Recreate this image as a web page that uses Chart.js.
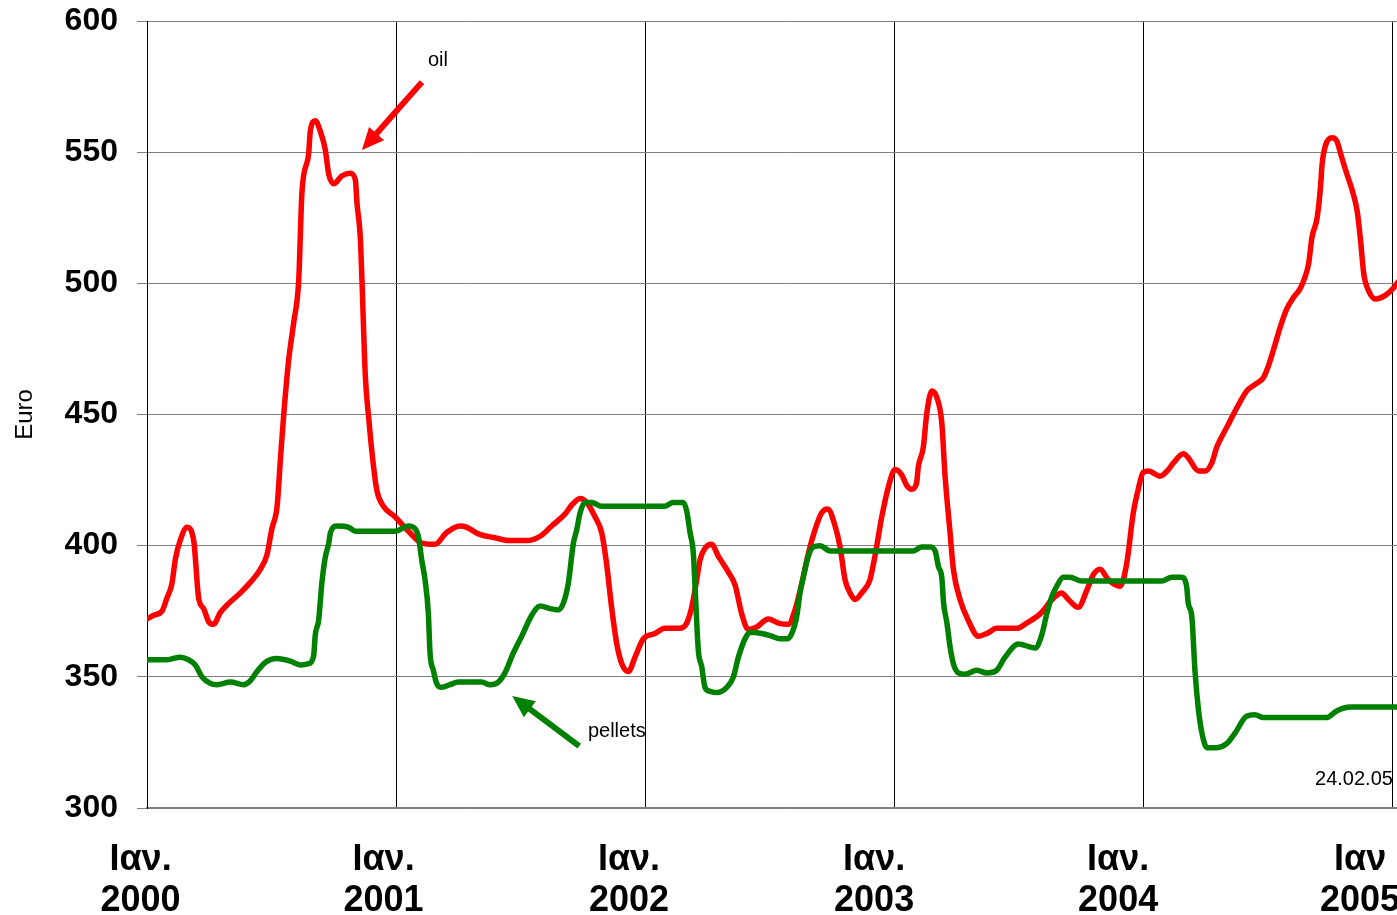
<!DOCTYPE html>
<html>
<head>
<meta charset="utf-8">
<script src="https://cdn.jsdelivr.net/npm/chart.js@4"></script>
<style>
  html, body { margin: 0; padding: 0; background: #fff; overflow: hidden; }
  canvas { display: block; }
</style>
</head>
<body>
<canvas id="priceChart" width="1440" height="915"></canvas>
<script>
// Data (x = months since Jan 2000, y = Euro)
const oilMonths = [0, 0.32, 0.72, 0.96, 1.2, 1.37, 1.6, 1.93, 2.25, 2.49, 2.73, 2.97, 3.21, 3.53, 3.94, 4.5, 4.98, 5.46, 5.78, 6.02,
  6.27, 6.43, 6.59, 6.83, 7.07, 7.31, 7.47, 7.79, 7.87, 8.11, 8.35, 8.59, 8.76, 9.0, 9.4, 9.8, 10.04, 10.12, 10.28, 10.36,
  10.52, 10.68, 10.92, 11.08, 11.4, 11.95, 12.6, 13.24, 13.88, 14.44, 15.08, 15.41, 15.97, 16.77, 17.41, 18.38, 19.02, 19.5, 20.14, 20.47,
  20.87, 21.19, 21.59, 21.91, 22.15, 22.39, 22.64, 22.88, 23.2, 23.52, 23.92, 24.48, 24.96, 25.61, 25.93, 26.25, 26.49, 26.65, 26.89, 27.21,
  27.53, 28.01, 28.34, 28.66, 28.98, 29.38, 29.94, 30.42, 30.9, 31.23, 31.55, 31.87, 32.19, 32.51, 32.8, 33.16, 33.4, 33.64, 33.88, 34.12,
  34.44, 34.84, 35.08, 35.41, 35.73, 36.05, 36.37, 36.61, 36.85, 37.09, 37.17, 37.41, 37.58, 37.82, 38.06, 38.3, 38.46, 38.7, 38.86, 39.18,
  39.58, 40.06, 40.47, 40.95, 41.91, 42.39, 43.04, 43.68, 44.08, 44.4, 44.88, 45.29, 45.61, 45.93, 46.33, 46.89, 47.21, 47.53, 47.77, 48.01,
  48.26, 48.82, 49.22, 49.46, 49.95, 50.18, 50.67, 50.99, 51.31, 51.55, 52.03, 52.52, 53.0, 53.4, 53.8, 54.04, 54.28, 54.6, 54.91, 55.24,
  55.57, 55.81, 55.98, 56.14, 56.39, 56.55, 56.63, 56.79, 57.11, 57.35, 57.52, 57.83, 58.08, 58.32, 58.48, 58.64, 58.88, 59.2, 59.69, 60.1,
  60.29, 60.6];
const oilPrice = [372, 373.5, 375, 380, 385.5, 395, 402, 407, 402, 380, 376, 371, 370, 374.5, 378, 382, 386, 391, 396.5, 406.5,
  415, 433, 450, 471, 485, 501, 535, 549.5, 558, 562, 558, 551, 541.5, 538, 541, 542, 539.5, 530.5, 517.5, 501,
  465, 449, 430, 421, 415, 411, 405.5, 401, 400.5, 405, 407.5, 407, 404.5, 403, 402, 402, 404, 407.5, 412, 415.5,
  418, 416.5, 411, 405, 393, 376.5, 362.5, 355, 352, 357.5, 364.5, 366.5, 368.5, 368.5, 369.5, 376.5, 387, 394.5, 399, 400.5,
  396, 390, 385, 374, 368, 369, 372, 370.5, 370, 375.5, 385.5, 397, 406, 412.5, 414, 407.5, 399.5, 387, 382, 379.5,
  382, 387, 396, 411, 422.5, 429, 427, 423, 421.5, 424, 430, 437.5, 450.5, 459, 456.5, 447, 426.5, 405, 391, 379.5,
  371.5, 365.5, 366.5, 368.5, 368.5, 370.5, 374, 380, 382, 379.5, 376.5, 383, 389, 391, 387, 384.5, 393, 412.5, 421.5, 428,
  428.5, 426.5, 429, 431.5, 435, 433.5, 428.5, 428.5, 431.5, 437.5, 445, 452.5, 459, 461.5, 464, 468.5, 474.5, 483, 490, 494.5,
  498, 502.5, 507.5, 517.5, 525, 536.5, 545.5, 552.5, 555.5, 554, 549.5, 541.5, 535.5, 527.5, 516.5, 503.5, 497, 494, 495.5, 498.5,
  500.5, 503];

const pelletMonths = [0, 0.96, 1.6, 2.0, 2.33, 2.65, 3.05, 3.37, 4.02, 4.66, 4.98, 5.3, 5.7, 6.27, 6.91, 7.39, 7.79, 8.03, 8.11, 8.27,
  8.43, 8.59, 8.76, 8.84, 9.16, 9.72, 10.04, 11.95, 12.6, 12.84, 13.08, 13.24, 13.4, 13.56, 13.64, 13.8, 13.96, 14.2, 14.6, 15.0,
  16.13, 16.53, 16.93, 17.25, 17.65, 18.06, 18.54, 18.94, 19.42, 19.82, 20.06, 20.3, 20.55, 20.71, 20.87, 21.11, 21.43, 21.91, 24.96, 25.36,
  25.84, 26.0, 26.17, 26.33, 26.41, 26.57, 26.73, 26.89, 27.13, 27.46, 27.94, 28.26, 28.5, 28.82, 29.06, 29.62, 30.1, 30.5, 30.83, 31.07,
  31.31, 31.47, 31.63, 31.87, 32.11, 32.43, 32.92, 36.93, 37.33, 37.73, 37.98, 38.14, 38.3, 38.39, 38.55, 38.7, 38.86, 39.1, 39.42, 39.99,
  40.47, 40.95, 41.35, 41.99, 42.8, 43.12, 43.36, 43.6, 43.84, 44.16, 44.48, 45.05, 48.9, 49.38, 49.86, 50.1, 50.18, 50.35, 50.51, 50.67,
  50.84, 51.08, 51.55, 52.03, 52.43, 52.99, 53.4, 53.8, 56.85, 57.33, 57.98, 60.6];
const pelletPrice = [356.5, 356.5, 357.5, 356.5, 354.5, 350, 347.5, 347, 348, 347, 348.5, 352, 355.5, 357, 356, 354.5, 355, 358, 366, 371.5,
  386, 395.5, 401, 405, 407.5, 407, 405.5, 405.5, 407.5, 407, 403.5, 394.5, 387, 374, 359, 352.5, 347.5, 346, 347, 348,
  348, 347, 348, 351.5, 359, 365.5, 373.5, 377, 376, 375.5, 378, 385.5, 401, 406, 412.5, 416.5, 416.5, 415, 415, 416.5,
  416.5, 413.5, 405, 397, 384.5, 360, 354, 346, 344.5, 344, 346, 350, 357.5, 364.5, 367, 366.5, 365.5, 364.5, 364.5, 366.5,
  373, 382, 388, 396, 399.5, 400, 398, 398, 399.5, 399.5, 398, 392, 388, 378, 370.5, 361.5, 355, 351.5, 351, 352.5,
  351.5, 352.5, 357.5, 362.5, 361, 366, 374, 380.5, 384.5, 388, 388, 386.5, 386.5, 388, 388, 384.5, 378, 373, 351.5, 337.5,
  328.5, 323, 323, 324.5, 328.5, 335, 335.5, 334.5, 334.5, 337, 338.5, 338.5];

const years = ['2000', '2001', '2002', '2003', '2004', '2005'];
const monthName = ['Ιαν.', 'Ιαν.', 'Ιαν.', 'Ιαν.', 'Ιαν.', 'Ιαν'];
const yearTicks = [0, 12, 24, 36, 48, 60];

// Where Excel put the year labels (slightly left of the gridlines)
const labelTicks = [-0.31, 11.4, 23.23, 35.04, 46.8, 58.46];

const FONT = "'Liberation Sans', Arial, sans-serif";

// Annotations (data units)
const notes = [
  { text: 'oil', color: '#ff0000', tail: [13.25, 576.7], tip: [10.36, 550.8], at: [14.02, 584.8] },
  { text: 'pellets', color: '#008000', tail: [20.83, 323.6], tip: [17.6, 342.7], at: [22.64, 329.3] }
];
const dateStamp = { text: '24.02.05', at: [56.29, 310.7] };

function toPoints(xs, ys) {
  return xs.map((x, i) => ({ x: x, y: ys[i] }));
}

const annotationPlugin = {
  id: 'notes',
  afterDatasetsDraw(chart) {
    const c = chart.ctx;
    const sx = chart.scales.x, sy = chart.scales.y;
    c.save();
    notes.forEach(n => {
      const x1 = sx.getPixelForValue(n.tail[0]), y1 = sy.getPixelForValue(n.tail[1]);
      const x2 = sx.getPixelForValue(n.tip[0]), y2 = sy.getPixelForValue(n.tip[1]);
      const ang = Math.atan2(y2 - y1, x2 - x1);
      const headLen = 22, headHalf = 10;
      const bx = x2 - headLen * Math.cos(ang), by = y2 - headLen * Math.sin(ang);
      c.strokeStyle = n.color;
      c.fillStyle = n.color;
      c.lineWidth = 6;
      c.lineCap = 'butt';
      c.beginPath();
      c.moveTo(x1, y1);
      c.lineTo(bx + 2 * Math.cos(ang), by + 2 * Math.sin(ang));
      c.stroke();
      c.beginPath();
      c.moveTo(x2, y2);
      c.lineTo(bx + headHalf * Math.sin(ang), by - headHalf * Math.cos(ang));
      c.lineTo(bx - headHalf * Math.sin(ang), by + headHalf * Math.cos(ang));
      c.closePath();
      c.fill();

      c.fillStyle = '#000';
      c.font = '20px ' + FONT;
      c.textAlign = 'center';
      c.textBaseline = 'middle';
      c.fillText(n.text, sx.getPixelForValue(n.at[0]), sy.getPixelForValue(n.at[1]));
    });
    c.fillStyle = '#000';
    c.font = '20px ' + FONT;
    c.textAlign = 'left';
    c.textBaseline = 'middle';
    c.fillText(dateStamp.text, sx.getPixelForValue(dateStamp.at[0]), sy.getPixelForValue(dateStamp.at[1]));
    c.restore();
  }
};

const ctx = document.getElementById('priceChart').getContext('2d');

const chart = new Chart(ctx, {
  type: 'scatter',
  data: {
    datasets: [{
      label: 'oil',
      data: toPoints(oilMonths, oilPrice),
      showLine: true,
      borderColor: '#ff0000',
      borderWidth: 5.5,
      pointRadius: 0,
      cubicInterpolationMode: 'monotone',
      borderJoinStyle: 'round',
      borderCapStyle: 'round',
      order: 1
    }, {
      label: 'pellets',
      data: toPoints(pelletMonths, pelletPrice),
      showLine: true,
      borderColor: '#008000',
      borderWidth: 5.5,
      pointRadius: 0,
      cubicInterpolationMode: 'monotone',
      borderJoinStyle: 'round',
      borderCapStyle: 'round',
      order: 0
    }]
  },
  options: {
    responsive: false,
    animation: false,
    layout: { padding: { top: 21, right: 10.6, left: 0, bottom: 0 } },
    plugins: {
      legend: { display: false },
      tooltip: { enabled: false }
    },
    scales: {
      x: {
        type: 'linear',
        position: 'bottom',
        min: 0,
        max: 61.8,
        afterBuildTicks: s => { s.ticks = yearTicks.map(v => ({ value: v })); },
        afterFit: s => { s.height = 0; },
        grid: { color: '#000', lineWidth: 1, drawTicks: false },
        border: { color: '#808080', width: 1.5 },
        ticks: { display: false }
      },
      xl: {
        type: 'linear',
        position: 'bottom',
        min: 0,
        max: 61.8,
        afterBuildTicks: s => { s.ticks = labelTicks.map(v => ({ value: v })); },
        afterFit: s => { s.height = 107; },
        grid: { display: false, drawTicks: false },
        border: { display: false },
        ticks: {
          autoSkip: false,
          maxRotation: 0,
          padding: 31,
          color: '#000',
          font: { family: FONT, size: 36, weight: 'bold', lineHeight: 1.15 },
          callback: (value, index) => [monthName[index], years[index]]
        }
      },
      y: {
        min: 300,
        max: 600,
        afterFit: s => { s.width = 147; s.paddingTop = 0; s.paddingBottom = 0; },
        grid: { color: '#808080', lineWidth: 1, tickLength: 10 },
        border: { color: '#000', width: 1 },
        ticks: {
          stepSize: 50,
          padding: 19,
          color: '#000',
          font: { family: FONT, size: 32, weight: 'bold' }
        },
        title: {
          display: true,
          text: 'Euro',
          color: '#000',
          padding: { top: 11, bottom: 0 },
          font: { family: FONT, size: 24 }
        }
      }
    }
  },
  plugins: [annotationPlugin]
});
</script>
</body>
</html>
